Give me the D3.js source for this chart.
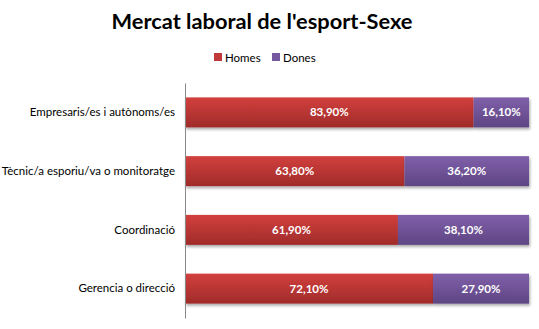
<!DOCTYPE html>
<html>
<head>
<meta charset="utf-8">
<script src="https://cdn.jsdelivr.net/npm/d3@7"></script>
<style>
  html, body { margin: 0; padding: 0; background: #fff; }
  svg { display: block; }
</style>
</head>
<body>
<svg id="chart" width="539" height="329"></svg>
<script>
// Labour market in sport, by sex (percentage of each job category)
const categories = [
  "Empresaris/es i autònoms/es",
  "Tècnic/a esporiu/va o monitoratge",
  "Coordinació",
  "Gerencia o direcció"
];
const homes = [83.9, 63.8, 61.9, 72.1];
const dones = [16.1, 36.2, 38.1, 27.9];
const seriesNames = ["Homes", "Dones"];

const W = 539, H = 329;
const margin = { left: 185, right: 10, top: 83, bottom: 11 };
const fontFamily = "Lato, 'Open Sans', sans-serif";

const svg = d3.select("#chart");
const defs = svg.append("defs");

function gradient(id, top, bottom) {
  const g = defs.append("linearGradient").attr("id", id)
    .attr("x1", 0).attr("y1", 0).attr("x2", 0).attr("y2", 1);
  g.append("stop").attr("offset", "0%").attr("stop-color", top);
  g.append("stop").attr("offset", "100%").attr("stop-color", bottom);
}
gradient("gHomes", "#d2403d", "#a02b2a");
gradient("gDones", "#8060aa", "#5e4583");
const fills = ["url(#gHomes)", "url(#gDones)"];
const flat = ["#c0393b", "#7558a0"];

const shadow = defs.append("filter").attr("id", "shadow")
  .attr("x", "-5%").attr("y", "-20%").attr("width", "110%").attr("height", "160%");
shadow.append("feGaussianBlur").attr("in", "SourceAlpha").attr("stdDeviation", 1.5);
shadow.append("feOffset").attr("dx", 1).attr("dy", 2).attr("result", "off");
shadow.append("feComponentTransfer").append("feFuncA").attr("type", "linear").attr("slope", 0.35);
const merge = shadow.append("feMerge");
merge.append("feMergeNode");
merge.append("feMergeNode").attr("in", "SourceGraphic");

const x = d3.scaleLinear().domain([0, 100]).range([margin.left, W - margin.right]);
const y = d3.scaleBand().domain(categories)
  .range([margin.top, H - margin.bottom]).paddingInner(0.49).paddingOuter(0.245);

// Title
svg.append("text")
  .attr("x", 262).attr("y", 29)
  .attr("text-anchor", "middle")
  .attr("font-family", fontFamily).attr("font-weight", "bold")
  .attr("font-size", 21.8).attr("fill", "#000")
  .text("Mercat laboral de l'esport-Sexe");

// Legend
const legend = svg.append("g").attr("font-family", fontFamily).attr("font-size", 11.5);
const legendPos = [214, 272];
seriesNames.forEach((name, i) => {
  legend.append("rect").attr("x", legendPos[i]).attr("y", 53)
    .attr("width", 8).attr("height", 8).attr("fill", flat[i]);
  legend.append("text").attr("x", legendPos[i] + 11).attr("y", 61.5)
    .attr("fill", "#000").text(name);
});

// Stacked data
const rows = categories.map((c, i) => ({ cat: c, Homes: homes[i], Dones: dones[i] }));
const stacked = d3.stack().keys(seriesNames)(rows);

const layers = svg.append("g").selectAll("g").data(stacked).join("g")
  .attr("fill", (d, i) => fills[i]);

layers.selectAll("rect").data(d => d).join("rect")
  .attr("x", d => x(d[0]))
  .attr("y", d => y(d.data.cat))
  .attr("width", d => x(d[1]) - x(d[0]))
  .attr("height", y.bandwidth())
  .attr("filter", "url(#shadow)");

// Value labels
const labels = svg.append("g").attr("font-family", fontFamily)
  .attr("font-weight", "bold").attr("font-size", 11.5).attr("fill", "#fff")
  .attr("text-anchor", "middle");
stacked.forEach(layer => {
  layer.forEach(d => {
    const v = d[1] - d[0];
    labels.append("text")
      .attr("x", (x(d[0]) + x(d[1])) / 2)
      .attr("y", y(d.data.cat) + y.bandwidth() / 2 + 4)
      .text(d3.format(".2f")(v).replace(".", ",") + "%");
  });
});

// Category axis
const axis = d3.axisLeft(y).tickSize(0).tickPadding(10);
const gAxis = svg.append("g").attr("transform", `translate(${margin.left},0)`).call(axis);
gAxis.select(".domain").attr("stroke", "#888").attr("stroke-width", 1);
gAxis.selectAll("text").attr("font-family", fontFamily).attr("font-size", 11.5).attr("fill", "#000");
</script>
</body>
</html>
